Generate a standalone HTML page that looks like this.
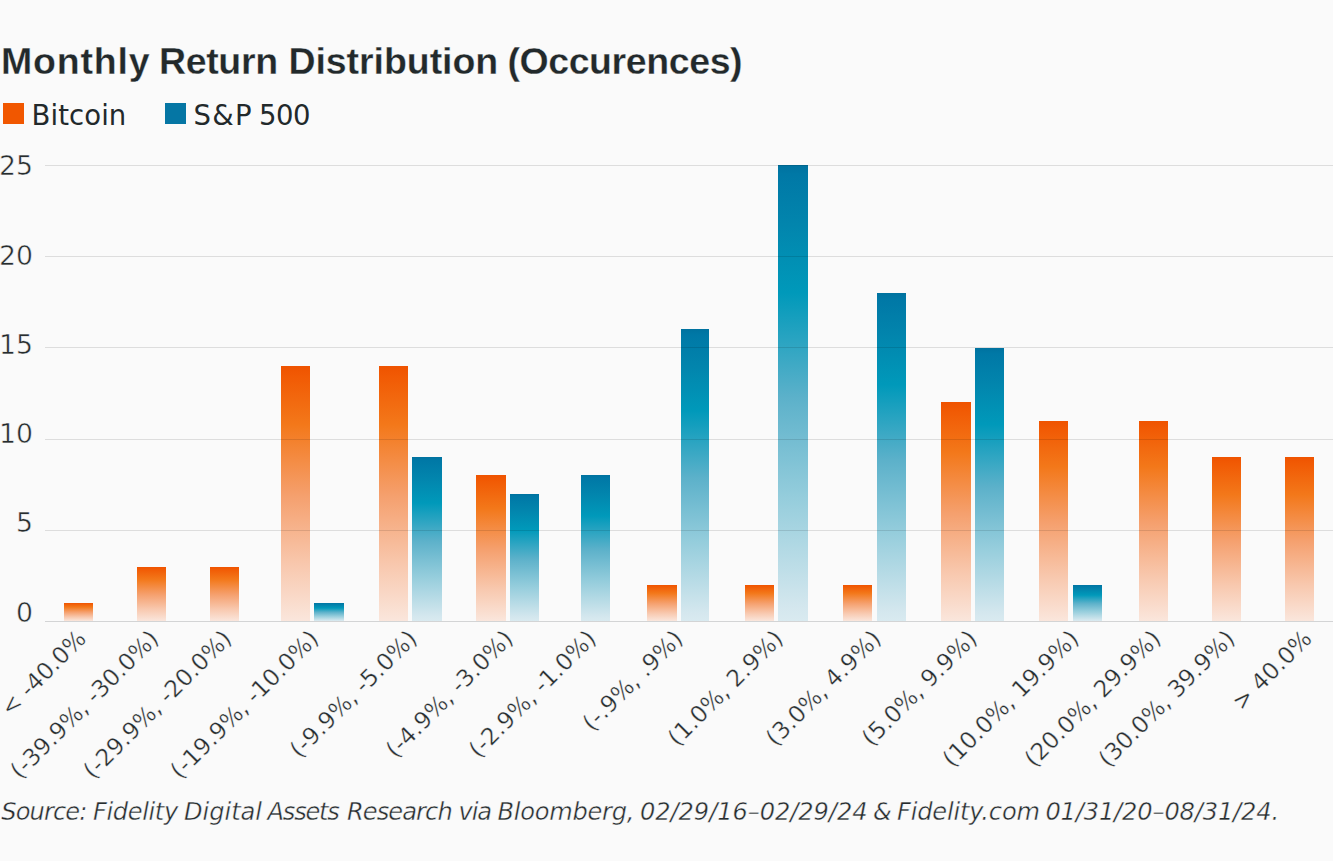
<!DOCTYPE html>
<html><head><meta charset="utf-8"><title>Monthly Return Distribution</title>
<style>
*{margin:0;padding:0;box-sizing:border-box}
html,body{width:1333px;height:861px;overflow:hidden;background:#fafafa}
body{position:relative;font-family:"Liberation Sans",Arial,sans-serif;color:#22292b}
h1,.leg-row,.src{font-size:0}
.tw{position:absolute;top:42.66px;font-size:37.5px;font-weight:bold;line-height:1;white-space:nowrap;color:#22292b;-webkit-text-stroke:0.3px #fafafa}
.leg{position:absolute;top:103px;width:21px;height:21px}
.lw{position:absolute;font-family:'DejaVu Sans',sans-serif;top:102.22px;font-size:27.5px;line-height:1;white-space:nowrap;color:#22292b}
.grid{position:absolute;z-index:2;left:44.5px;right:0;height:1px;background:rgba(0,0,0,0.115)}
.grid.axis{background:rgba(10,20,25,0.16)}
.ylab{position:absolute;transform:scaleX(1.0);transform-origin:100% 50%;font-family:'DejaVu Sans',sans-serif;font-weight:400;right:1300px;font-size:26.7px;line-height:1;color:#262c2e;-webkit-text-stroke:0.5px #fafafa}
.bar{position:absolute}
.bar.o{background:linear-gradient(to bottom,#ef5300 0%,#f15a04 4%,#f3781a 23%,#f5a06e 51%,#f8c8ae 78%,#fae6dc 100%)}
.bar.b{background:linear-gradient(to bottom,#00729f 0%,#0078a6 2%,#0285ad 13%,#0099ba 28%,#5cb1ca 51%,#95cddc 73%,#d4e7ee 97%,#d9eaf0 100%)}
.xlab{position:absolute;font-family:'DejaVu Sans',sans-serif;font-weight:400;font-size:23.3px;line-height:1;white-space:nowrap;transform-origin:100% 0;transform:rotate(-45deg) scaleX(1.0);color:#262c2e;-webkit-text-stroke:0.35px #fafafa}
.sw{position:absolute;font-family:'DejaVu Sans',sans-serif;top:800.20px;font-size:24.1px;line-height:1;font-style:italic;white-space:nowrap;color:#262c2e;-webkit-text-stroke:0.4px #fafafa}
</style></head><body>
<h1><span class="tw" style="left:1.0px;letter-spacing:0.80px">Monthly</span> <span class="tw" style="left:158.9px;letter-spacing:-0.32px">Return</span> <span class="tw" style="left:288.4px;letter-spacing:-0.05px">Distribution</span> <span class="tw" style="left:507.4px;letter-spacing:-0.41px">(Occurences)</span></h1>
<div class="leg-row"><div class="leg" style="left:3px;background:#f15700"></div><div class="leg" style="left:165px;background:#0576a4"></div><span class="lw" style="left:31.5px;letter-spacing:0.08px">Bitcoin</span> <span class="lw" style="left:193.6px;letter-spacing:1.30px">S&amp;P</span> <span class="lw" style="left:259.0px;letter-spacing:-0.55px">500</span></div>
<div class="grid" style="top:165px"></div><div class="grid" style="top:256px"></div><div class="grid" style="top:347px"></div><div class="grid" style="top:439px"></div><div class="grid" style="top:530px"></div><div class="grid axis" style="top:621px"></div>
<div class="ylab" style="top:153.3px">25</div><div class="ylab" style="top:242.6px">20</div><div class="ylab" style="top:331.8px">15</div><div class="ylab" style="top:421.1px">10</div><div class="ylab" style="top:510.3px">5</div><div class="ylab" style="top:599.6px">0</div>
<div class="bar o" style="left:63.8px;width:29.3px;top:603.2px;height:17.8px"></div><div class="bar o" style="left:137.0px;width:29.0px;top:566.7px;height:54.3px"></div><div class="bar o" style="left:210.1px;width:28.9px;top:566.7px;height:54.3px"></div><div class="bar o" style="left:281.3px;width:28.5px;top:365.9px;height:255.1px"></div><div class="bar o" style="left:378.8px;width:28.9px;top:365.9px;height:255.1px"></div><div class="bar o" style="left:476.2px;width:29.6px;top:475.4px;height:145.6px"></div><div class="bar o" style="left:646.8px;width:30.0px;top:585.0px;height:36.0px"></div><div class="bar o" style="left:745.0px;width:29.0px;top:585.0px;height:36.0px"></div><div class="bar o" style="left:843.2px;width:28.8px;top:585.0px;height:36.0px"></div><div class="bar o" style="left:941.0px;width:29.6px;top:402.4px;height:218.6px"></div><div class="bar o" style="left:1039.0px;width:29.3px;top:420.6px;height:200.4px"></div><div class="bar o" style="left:1139.0px;width:29.3px;top:420.6px;height:200.4px"></div><div class="bar o" style="left:1212.0px;width:29.0px;top:457.2px;height:163.8px"></div><div class="bar o" style="left:1285.0px;width:29.1px;top:457.2px;height:163.8px"></div><div class="bar b" style="left:314.0px;width:29.8px;top:603.2px;height:17.8px"></div><div class="bar b" style="left:412.1px;width:29.7px;top:457.2px;height:163.8px"></div><div class="bar b" style="left:510.0px;width:29.1px;top:493.7px;height:127.3px"></div><div class="bar b" style="left:580.5px;width:29.5px;top:475.4px;height:145.6px"></div><div class="bar b" style="left:680.8px;width:28.5px;top:329.3px;height:291.7px"></div><div class="bar b" style="left:778.0px;width:30.0px;top:165.0px;height:456.0px"></div><div class="bar b" style="left:876.5px;width:29.3px;top:292.8px;height:328.2px"></div><div class="bar b" style="left:974.8px;width:29.5px;top:347.6px;height:273.4px"></div><div class="bar b" style="left:1072.5px;width:29.3px;top:585.0px;height:36.0px"></div>
<div class="xlab" style="right:1259.4px;top:626.4px">&lt; -40.0%</div><div class="xlab" style="right:1187.2px;top:626.4px">(-39.9%, -30.0%)</div><div class="xlab" style="right:1114.1px;top:626.4px">(-29.9%, -20.0%)</div><div class="xlab" style="right:1026.7px;top:626.4px">(-19.9%, -10.0%)</div><div class="xlab" style="right:928.4px;top:626.4px">(-9.9%, -5.0%)</div><div class="xlab" style="right:832.8px;top:626.4px">(-4.9%, -3.0%)</div><div class="xlab" style="right:750.0px;top:626.4px">(-2.9%, -1.0%)</div><div class="xlab" style="right:662.4px;top:626.4px">(-.9%, .9%)</div><div class="xlab" style="right:562.2px;top:626.4px">(1.0%, 2.9%)</div><div class="xlab" style="right:464.7px;top:626.4px">(3.0%, 4.9%)</div><div class="xlab" style="right:368.2px;top:626.4px">(5.0%, 9.9%)</div><div class="xlab" style="right:267.0px;top:626.4px">(10.0%, 19.9%)</div><div class="xlab" style="right:184.5px;top:626.4px">(20.0%, 29.9%)</div><div class="xlab" style="right:110.5px;top:626.4px">(30.0%, 39.9%)</div><div class="xlab" style="right:33.8px;top:626.4px">&gt; 40.0%</div>
<p class="src"><span class="sw" style="left:1.3px;letter-spacing:-0.88px">Source:</span> <span class="sw" style="left:93.0px;letter-spacing:-0.37px">Fidelity</span> <span class="sw" style="left:184.0px;letter-spacing:-0.02px">Digital</span> <span class="sw" style="left:267.6px;letter-spacing:-1.24px">Assets</span> <span class="sw" style="left:346.9px;letter-spacing:-0.90px">Research</span> <span class="sw" style="left:458.5px;letter-spacing:-1.10px">via</span> <span class="sw" style="left:497.6px;letter-spacing:-0.26px">Bloomberg,</span> <span class="sw" style="left:640.0px;letter-spacing:-0.06px">02/29/16–02/29/24</span> <span class="sw" style="left:873.0px;letter-spacing:0.00px">&amp;</span> <span class="sw" style="left:897.0px;letter-spacing:-0.19px">Fidelity.com</span> <span class="sw" style="left:1045.4px;letter-spacing:-0.14px">01/31/20–08/31/24.</span></p>
</body></html>
